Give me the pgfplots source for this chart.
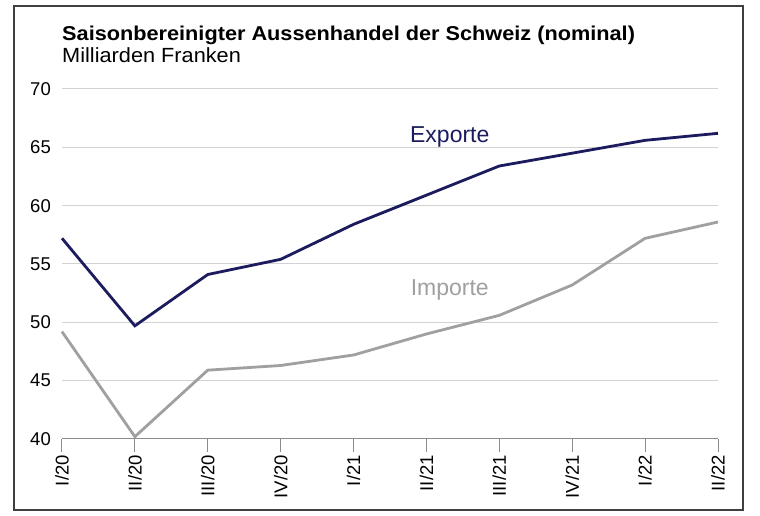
\documentclass[border=0pt]{standalone}
\usepackage{pgfplots}
\pgfplotsset{compat=1.18}
\usepackage{fontspec}
\setmainfont{Liberation Sans}
\definecolor{expc}{HTML}{1B1B5E}
\definecolor{impc}{HTML}{A0A0A0}
\definecolor{gridc}{HTML}{D2D2D2}
\definecolor{axc}{HTML}{8C8C8C}
\begin{document}
\begin{tikzpicture}[x=1pt,y=1pt]
\useasboundingbox (-62,-77) rectangle (698,439);
\fill[white] (-62,-77) rectangle (698,439);
\draw[line width=1.6pt, black!75] (-48,-71) rectangle (681,433);
\node[anchor=base west, inner sep=0pt, xscale=1.085, font=\fontsize{20}{20}\selectfont\bfseries] at (0,398) {Saisonbereinigter Aussenhandel der Schweiz (nominal)};
\node[anchor=base west, inner sep=0pt, xscale=1.06, font=\fontsize{20.5}{20.5}\selectfont] at (0,376) {Milliarden Franken};
\begin{axis}[
  at={(0,0)}, anchor=south west,
  scale only axis, width=656pt, height=350pt,
  xmin=0, xmax=9, ymin=40, ymax=70,
  ytick={40,45,...,70},
  xtick={0,...,9},
  xticklabels={I/20,II/20,III/20,IV/20,I/21,II/21,III/21,IV/21,I/22,II/22},
  axis x line*=bottom, axis y line*=left,
  y axis line style={draw=none},
  x axis line style={draw=axc, line width=1pt, -},
  ytick style={draw=none},
  xtick style={draw=axc, line width=1pt},
  tick align=outside,
  major tick length=13pt,
  ymajorgrids, grid style={draw=gridc, line width=1pt},
  clip=false,
  /pgf/number format/assume math mode=true,
  ticklabel style={font=\fontsize{18.5}{18.5}\selectfont, text=black},
  xticklabel style={rotate=90, anchor=east, inner sep=0pt},
  xticklabel shift=3pt,
  yticklabel style={anchor=east, inner sep=0pt},
  yticklabel shift=-2pt,
]
\addplot[expc, line width=2.8pt] coordinates {
(0,57.2) (1,49.7) (2,54.1) (3,55.4) (4,58.4) (5,60.9) (6,63.4) (7,64.5) (8,65.6) (9,66.2)};
\addplot[impc, line width=2.8pt] coordinates {
(0,49.2) (1,40.2) (2,45.9) (3,46.3) (4,47.2) (5,49.0) (6,50.6) (7,53.2) (8,57.2) (9,58.6)};
\node[text=expc, font=\fontsize{23}{23}\selectfont] at (axis cs:5.32,65.9) {Exporte};
\node[text=impc, font=\fontsize{23}{23}\selectfont] at (axis cs:5.32,52.8) {Importe};
\end{axis}
\end{tikzpicture}
\end{document}
